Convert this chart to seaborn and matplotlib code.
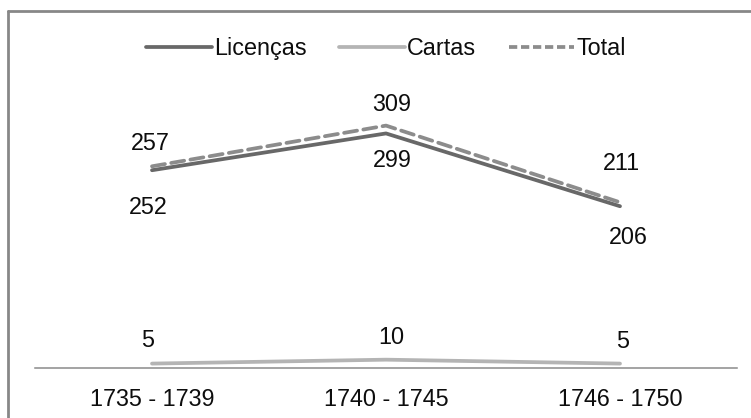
import matplotlib
matplotlib.use("Agg")
import matplotlib.pyplot as plt
from matplotlib.lines import Line2D
import seaborn as sns
import pandas as pd

# Period categories and series values
periods = ["1735 - 1739", "1740 - 1745", "1746 - 1750"]
licencas = [252, 299, 206]
cartas = [5, 10, 5]
total = [257, 309, 211]

series_names = ["Licenças", "Cartas", "Total"]
series_values = [licencas, cartas, total]

sns.set_theme(style="white")
plt.rcParams["font.family"] = ["Liberation Sans", "DejaVu Sans"]

FS = 16.8
colors = {"Licenças": "#686868", "Cartas": "#b4b4b4", "Total": "#8c8c8c"}

rows = []
for name, vals in zip(series_names, series_values):
    for i, v in enumerate(vals):
        rows.append({"pos": i, "valor": v, "serie": name})
df = pd.DataFrame(rows)

fig = plt.figure(figsize=(7.51, 4.18), dpi=100)
ax = fig.add_axes([35 / 751, 1 - 367.5 / 418, 702 / 751, 274 / 418])

for name in series_names:
    sub = df[df["serie"] == name]
    kw = dict(solid_capstyle="round")
    if name == "Total":
        kw = dict(dashes=(3.5, 1.7), dash_capstyle="round")
    sns.lineplot(data=sub, x="pos", y="valor", ax=ax, color=colors[name],
                 linewidth=2.7, legend=False, **kw)

# Data labels (offsets in pixels from each point)
label_offsets = {
    "Licenças": [(-4, -37), (6.5, -27), (8, -31)],
    "Cartas": [(-4, 22.6), (5.5, 21.7), (3, 21.6)],
    "Total": [(-2, 23), (5.5, 21), (1, 39)],
}
for name, vals in zip(series_names, series_values):
    for i, v in enumerate(vals):
        dx, dy = label_offsets[name][i]
        ax.annotate(str(v), (i, v), xytext=(dx, dy), textcoords="offset pixels",
                    ha="center", va="center", fontsize=FS, color="#0d0d0d")

ax.set_xlim(-0.5, len(periods) - 0.5)
ax.set_ylim(0, 350)
ax.set_xticks(range(len(periods)))
ax.set_xticklabels(periods, fontsize=FS, color="#0d0d0d")
ax.set_yticks([])
ax.set_xlabel("")
ax.set_ylabel("")
ax.tick_params(axis="x", length=0, pad=15)
for side in ["left", "right", "top"]:
    ax.spines[side].set_visible(False)
ax.spines["bottom"].set_color("#8a8a8a")
ax.spines["bottom"].set_linewidth(1.1)

handles = [
    Line2D([], [], color=colors["Licenças"], linewidth=2.7),
    Line2D([], [], color=colors["Cartas"], linewidth=2.7),
    Line2D([], [], color=colors["Total"], linewidth=2.7, dashes=(2.2, 1.0)),
]
fig.legend(handles, series_names, loc="center", bbox_to_anchor=(386 / 751, 1 - 48.5 / 418),
           ncol=3, frameon=False, fontsize=FS, handlelength=2.8, handletextpad=0.1,
           columnspacing=1.4, labelcolor="#0d0d0d")

# Chart frame
frame_kw = dict(color="#878787", linewidth=2.0, transform=fig.transFigure)
fig.add_artist(Line2D([8 / 751, 8 / 751], [0, 1 - 11 / 418], **frame_kw))
fig.add_artist(Line2D([8 / 751, 1], [1 - 11 / 418, 1 - 11 / 418], **frame_kw))

fig.savefig("out.png", dpi=100)
